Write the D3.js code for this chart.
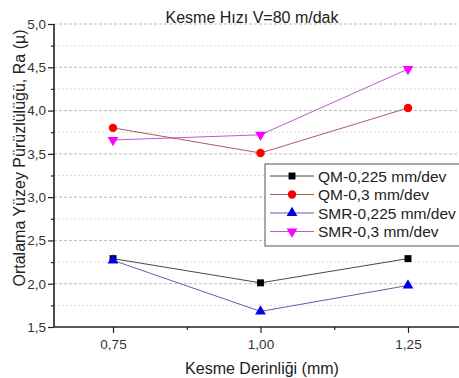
<!DOCTYPE html>
<html>
<head>
<meta charset="utf-8">
<script src="https://cdn.jsdelivr.net/npm/d3@7"></script>
<style>
  body { margin: 0; background: #fff; }
  text { font-family: "Liberation Sans", Arial, sans-serif; }
</style>
</head>
<body>
<svg id="chart" width="459" height="378"></svg>
<script>
// cutting depth (mm)
const depths = [0.75, 1.00, 1.25];
const qm0225 = [2.29, 2.01, 2.29];
const qm03 = [3.80, 3.51, 4.03];
const smr0225 = [2.27, 1.68, 1.98];
const smr03 = [3.66, 3.72, 4.48];
const seriesNames = ['QM-0,225 mm/dev', 'QM-0,3 mm/dev', 'SMR-0,225 mm/dev', 'SMR-0,3 mm/dev'];
const yTicks = [1.5, 2.0, 2.5, 3.0, 3.5, 4.0, 4.5, 5.0];
const xTicks = [0.75, 1.00, 1.25];

const series = [
  { name: seriesNames[0], values: qm0225, color: '#000000', line: '#333', symbol: d3.symbolSquare, size: 48, rot: 0 },
  { name: seriesNames[1], values: qm03, color: '#ff0000', line: '#a84848', symbol: d3.symbolCircle, size: 56, rot: 0 },
  { name: seriesNames[2], values: smr0225, color: '#0000ee', line: '#50509a', symbol: d3.symbolTriangle, size: 50, rot: 0 },
  { name: seriesNames[3], values: smr03, color: '#ff00ff', line: '#b048c0', symbol: d3.symbolTriangle, size: 50, rot: 180 },
];

const svg = d3.select('#chart');
const plotL = 54, plotR = 467, plotT = 24, plotB = 327;

const x = d3.scaleLinear().domain([0.65, 1.35]).range([plotL, plotR]);
const y = d3.scaleLinear().domain([1.5, 5.0]).range([plotB, plotT]);

// grid
const minorY = d3.range(1.75, 5.0, 0.5);
svg.append('g').selectAll('line').data(minorY).join('line')
  .attr('x1', plotL).attr('x2', 459)
  .attr('y1', d => y(d)).attr('y2', d => y(d))
  .attr('stroke', '#d4d4d4').attr('stroke-width', 0.8).attr('stroke-dasharray', '2,2');
svg.append('g').selectAll('line').data(yTicks.slice(1)).join('line')
  .attr('x1', plotL).attr('x2', 459)
  .attr('y1', d => y(d)).attr('y2', d => y(d))
  .attr('stroke', '#aaa').attr('stroke-width', 0.8).attr('stroke-dasharray', '3,2');

// axes
const yAxis = svg.append('g').attr('transform', `translate(${plotL},0)`)
  .call(d3.axisLeft(y).tickValues(yTicks).tickFormat(d => d3.format('.1f')(d).replace('.', ',')).tickSize(6).tickPadding(2));
svg.append('g').attr('transform', `translate(${plotL},0)`)
  .call(d3.axisLeft(y).tickValues(minorY).tickFormat('').tickSize(3))
  .call(g => g.select('.domain').remove());
const xAxis = svg.append('g').attr('transform', `translate(0,${plotB})`)
  .call(d3.axisBottom(x).tickValues(xTicks).tickFormat(d => d3.format('.2f')(d).replace('.', ',')).tickSize(6).tickPadding(6));
svg.append('g').attr('transform', `translate(0,${plotB})`)
  .call(d3.axisBottom(x).tickValues([0.875, 1.125]).tickFormat('').tickSize(3))
  .call(g => g.select('.domain').remove());

[yAxis, xAxis].forEach(g => {
  g.select('.domain').attr('stroke', '#222').attr('stroke-width', 1.6);
  g.selectAll('.tick text').attr('font-size', 13.5).attr('fill', '#333')
    .style('font-family', '"Liberation Sans", Arial, sans-serif');
});
svg.selectAll('g .tick line').attr('stroke', '#222').attr('stroke-width', 1.2);
yAxis.select('.domain').attr('d', `M0,${plotB}V${plotT}`);
xAxis.select('.domain').attr('d', `M${plotL},0H459`);

// lines + markers
const lineGen = (vals) => d3.line().x((d, i) => x(depths[i])).y(d => y(d))(vals);
series.forEach(s => {
  svg.append('path').attr('d', lineGen(s.values))
    .attr('fill', 'none').attr('stroke', s.line).attr('stroke-width', 0.9);
});
series.forEach(s => {
  svg.append('g').selectAll('path').data(s.values).join('path')
    .attr('d', d3.symbol(s.symbol, s.size))
    .attr('transform', (d, i) => `translate(${x(depths[i])},${y(d)}) rotate(${s.rot})`)
    .attr('fill', s.color);
});

// legend
const lg = svg.append('g').attr('transform', 'translate(265,164)');
lg.append('rect').attr('x', 0).attr('y', 0).attr('width', 200).attr('height', 82)
  .attr('fill', '#fff').attr('stroke', '#555').attr('stroke-width', 1);
series.forEach((s, i) => {
  const yy = 12 + i * 18.5;
  lg.append('line').attr('x1', 5).attr('x2', 49).attr('y1', yy).attr('y2', yy)
    .attr('stroke', s.line).attr('stroke-width', 0.9);
  lg.append('path').attr('d', d3.symbol(s.symbol, s.size))
    .attr('transform', `translate(27,${yy}) rotate(${s.rot})`).attr('fill', s.color);
  lg.append('text').attr('x', 53).attr('y', yy + 5.5).attr('font-size', 15.5).attr('fill', '#222').text(s.name);
});

// titles
svg.append('text').attr('x', 252).attr('y', 23).attr('text-anchor', 'middle')
  .attr('font-size', 16).attr('fill', '#222').text('Kesme Hızı V=80 m/dak');
svg.append('text').attr('x', 262).attr('y', 374).attr('text-anchor', 'middle')
  .attr('font-size', 16).attr('fill', '#222').text('Kesme Derinliği (mm)');
svg.append('text').attr('transform', 'translate(25,158) rotate(-90)').attr('text-anchor', 'middle')
  .attr('font-size', 16).attr('fill', '#222').text('Ortalama Yüzey Pürüzlülüğü, Ra (µ)');
</script>
</body>
</html>
